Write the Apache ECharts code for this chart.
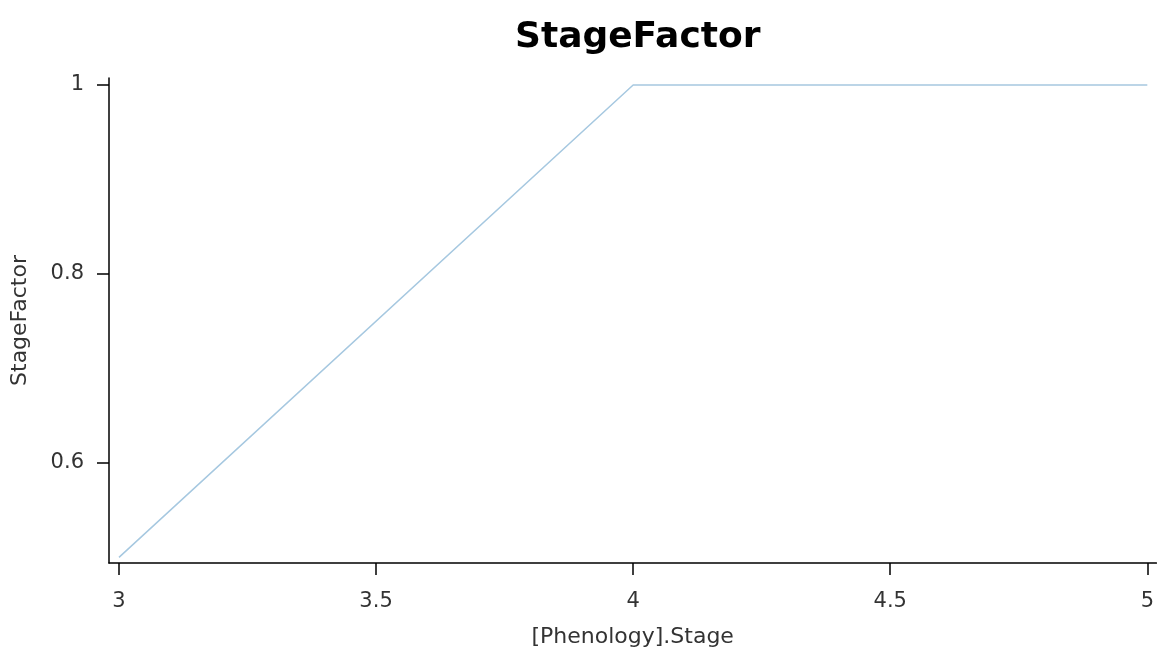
<!DOCTYPE html>
<html>
<head>
<meta charset="utf-8">
<script src="https://cdn.jsdelivr.net/npm/echarts@6/dist/echarts.min.js"></script>
<style>html,body{margin:0;padding:0;background:#fff;}#c{width:1157px;height:653px;}</style>
</head>
<body>
<div id="c"></div>
<script>
const titleText = "StageFactor";
const xName = "[Phenology].Stage";
const yName = "StageFactor";
const xValues = [3, 4, 5];
const yValues = [0.5, 1, 1];
const xTicks = [3, 3.5, 4, 4.5, 5];
const yTicks = [0.6, 0.8, 1];

const chart = echarts.init(document.getElementById('c'), null, {renderer: 'canvas'});
const font = 'DejaVu Sans';
chart.setOption({
  animation: false,
  backgroundColor: '#fff',
  title: {
    text: titleText, left: 510, top: 15,
    textStyle: {fontFamily: font, fontWeight: 'bold', fontSize: 36, color: '#000'}
  },
  grid: {left: 109, right: 0, top: 78, bottom: 90, containLabel: false},
  xAxis: {
    type: 'value', min: 2.9806, max: 5.0175,
    name: xName, nameLocation: 'middle', nameGap: 63,
    nameTextStyle: {fontFamily: font, fontSize: 22, color: '#333'},
    axisLine: {show: true, onZero: false, lineStyle: {color: '#000', width: 1.5}},
    axisTick: {show: true, customValues: xTicks, length: 12, lineStyle: {color: '#000', width: 1.5}},
    axisLabel: {customValues: xTicks, fontFamily: font, fontSize: 21, color: '#333', margin: 28,
      formatter: v => String(v)},
    splitLine: {show: false}
  },
  yAxis: {
    type: 'value', min: 0.494, max: 1.0074,
    name: yName, nameLocation: 'middle', nameGap: 78, nameRotate: 90,
    nameTextStyle: {fontFamily: font, fontSize: 22, color: '#333'},
    axisLine: {show: true, onZero: false, lineStyle: {color: '#000', width: 1.5}},
    axisTick: {show: true, customValues: yTicks, length: 12, lineStyle: {color: '#000', width: 1.5}},
    axisLabel: {customValues: yTicks, fontFamily: font, fontSize: 21, color: '#333', margin: 25,
      formatter: v => String(v)},
    splitLine: {show: false}
  },
  series: [{
    type: 'line', data: xValues.map((x, i) => [x, yValues[i]]),
    showSymbol: false, symbol: 'none',
    lineStyle: {color: '#a6c8e0', width: 1.5}
  }]
});
</script>
</body>
</html>
